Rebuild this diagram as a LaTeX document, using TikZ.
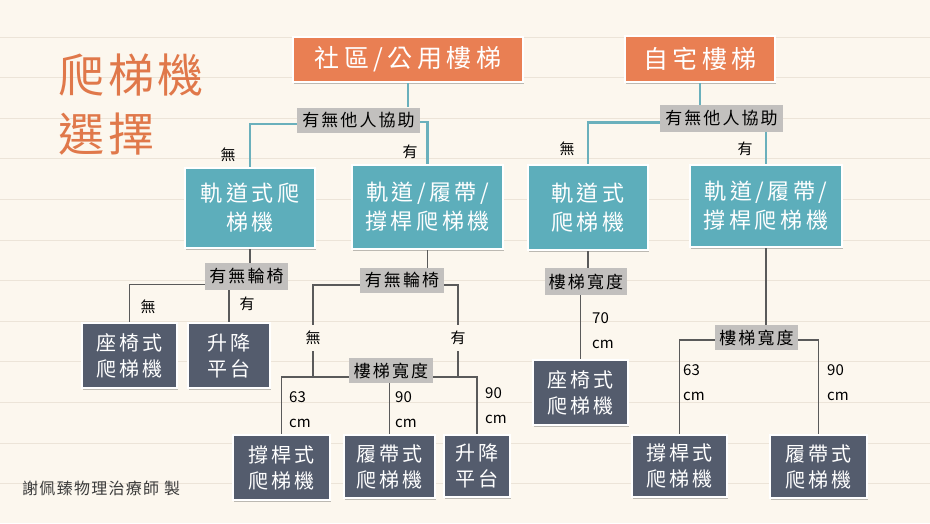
\documentclass[tikz,border=0pt]{standalone}
\usepackage{fontspec}
\usetikzlibrary{shadows}
\newfontfamily\cjk{Noto Sans CJK TC}
\newfontfamily\cjkTop[LetterSpace=18]{Noto Sans CJK TC}
\newfontfamily\cjkTeal[LetterSpace=16]{Noto Sans CJK TC}
\newfontfamily\cjkLeaf[LetterSpace=13]{Noto Sans CJK TC}
\newfontfamily\cjkQ[LetterSpace=12]{Noto Sans CJK TC}
\newfontfamily\cjkTitle[LetterSpace=8]{Noto Sans CJK TC}
\newfontfamily\cjkFoot[LetterSpace=8]{Noto Sans CJK TC}
\definecolor{bgc}{HTML}{FCF7EE}
\definecolor{rulec}{HTML}{ECE4D8}
\definecolor{orangec}{HTML}{E97F53}
\definecolor{titlec}{HTML}{E0784A}
\definecolor{tealc}{HTML}{5DAEBB}
\definecolor{teallinec}{HTML}{6AB0BC}
\definecolor{darkc}{HTML}{545C6D}
\definecolor{labelc}{HTML}{C2C0BE}
\definecolor{greylinec}{HTML}{5A5A5A}
\definecolor{footc}{HTML}{3A3A3A}
\tikzset{
  boxbase/.style={draw=white, line width=2.5pt, align=center, inner sep=0pt,
    drop shadow={shadow xshift=1.2pt, shadow yshift=-2pt, opacity=0.25, fill=black}},
  topbox/.style={boxbase, fill=orangec, text=white, font=\cjkTop\fontsize{25}{30}\selectfont},
  tealbox/.style={boxbase, fill=tealc, text=white, font=\cjkTeal\fontsize{22}{29}\selectfont},
  leafbox/.style={boxbase, fill=darkc, text=white, font=\cjkLeaf\fontsize{20}{26}\selectfont},
  qlabel/.style={fill=labelc, inner sep=0pt, text=black, font=\cjkQ\fontsize{17}{20}\selectfont},
  edgelabel/.style={text=black, inner xsep=1pt, inner ysep=6pt, font=\cjk\fontsize{15}{18}\selectfont},
  cmlabel/.style={anchor=west, align=left, inner sep=0pt, text=black, font=\cjk\fontsize{15}{25}\selectfont},
  titletext/.style={anchor=west, text=titlec, font=\cjkTitle\fontsize{46}{50}\selectfont},
  tealline/.style={draw=teallinec, line width=2.8pt},
  greyline/.style={draw=greylinec, line width=1.1pt},
}
\begin{document}
\begin{tikzpicture}[x=1pt,y=-1pt]
\useasboundingbox (0,0) rectangle (930,523);
\fill[bgc] (0,0) rectangle (930,523);
\foreach \k in {0,...,11} \draw[rulec, line width=0.8pt] (0,{37+40.6*\k}) -- (930,{37+40.6*\k});

% title
\node[titletext] (t1) at (55,75) {爬梯機};
\node[titletext] (t2) at (55,134) {選擇};

% top boxes
\node[topbox, minimum width=230pt, minimum height=45pt] (top1) at (408,59.5) {社區/公用樓梯};
\node[topbox, minimum width=150pt, minimum height=46pt] (top2) at (700,59) {自宅樓梯};

% question labels
\node[qlabel, minimum width=123pt, minimum height=25pt] (q1) at (358.5,120) {有無他人協助};
\node[qlabel, minimum width=123pt, minimum height=27pt] (q2) at (721.5,118.5) {有無他人協助};

% teal boxes
\node[tealbox, minimum width=130pt, minimum height=80pt] (A) at (250,208) {軌道式爬\\梯機};
\node[tealbox, minimum width=151pt, minimum height=84pt] (B) at (427.5,207) {軌道/履帶/\\撐桿爬梯機};
\node[tealbox, minimum width=120pt, minimum height=85pt] (C) at (588,207.5) {軌道式\\爬梯機};
\node[tealbox, minimum width=152pt, minimum height=82pt] (D) at (766,206) {軌道/履帶/\\撐桿爬梯機};

\node[qlabel, minimum width=83pt, minimum height=27pt] (qA) at (246.5,276.5) {有無輪椅};
\node[qlabel, minimum width=84pt, minimum height=25pt] (qB) at (402,280.5) {有無輪椅};
\node[qlabel, minimum width=82pt, minimum height=27pt] (qC) at (586,281.5) {樓梯寬度};
\node[qlabel, minimum width=83pt, minimum height=25pt] (qD) at (756.5,337.5) {樓梯寬度};
\node[qlabel, minimum width=84pt, minimum height=25pt] (qB2) at (391,370.5) {樓梯寬度};

% leaf boxes
\node[leafbox, minimum width=95pt, minimum height=65pt] (L1) at (129.5,355.5) {座椅式\\爬梯機};
\node[leafbox, minimum width=82pt, minimum height=65pt] (L2) at (229,355.5) {升降\\平台};
\node[leafbox, minimum width=97pt, minimum height=65pt] (L3) at (281.5,467.5) {撐桿式\\爬梯機};
\node[leafbox, minimum width=91pt, minimum height=63pt] (L4) at (389.5,466.5) {履帶式\\爬梯機};
\node[leafbox, minimum width=66pt, minimum height=62pt] (L5) at (477,466) {升降\\平台};
\node[leafbox, minimum width=95pt, minimum height=65pt] (L6) at (580.5,392.5) {座椅式\\爬梯機};
\node[leafbox, minimum width=95pt, minimum height=62pt] (L7) at (679.5,466) {撐桿式\\爬梯機};
\node[leafbox, minimum width=97pt, minimum height=63pt] (L8) at (818.5,466.5) {履帶式\\爬梯機};

% edge labels
\node[edgelabel] (e1) at (228,155) {無};
\node[edgelabel] (e2) at (410,152) {有};
\node[edgelabel] (e3) at (567,149) {無};
\node[edgelabel] (e4) at (745,149) {有};
\node[edgelabel] (e5) at (148,307) {無};
\node[edgelabel] (e6) at (247,304) {有};
\node[edgelabel] (nB) at (313,338) {無};
\node[edgelabel] (yB) at (458,338) {有};

\node[cmlabel] (c1) at (289,410) {63\\cm};
\node[cmlabel] (c2) at (395,410) {90\\cm};
\node[cmlabel] (c3) at (485,405.5) {90\\cm};
\node[cmlabel] (c4) at (592,330.5) {70\\cm};
\node[cmlabel] (c5) at (683,383) {63\\cm};
\node[cmlabel] (c6) at (827,383) {90\\cm};

% connectors (teal)
\draw[tealline] (top1.south) -- (top1.south |- q1.north);
\draw[tealline] ([yshift=-4pt]q1.west) -| (A.north);
\draw[tealline] ([yshift=-2pt]q1.east) -| (B.north);
\draw[tealline] (top2.south) -- (top2.south |- q2.north);
\draw[tealline] ([yshift=-4pt]q2.west) -| (C.north);
\draw[tealline] (D.north |- q2.south) -- (D.north);

% connectors (grey)
\draw[greyline] (A.south) -- (A.south |- qA.north);
\draw[greyline] ([yshift=-8pt]qA.west) -| (L1.north);
\draw[greyline] (L2.north |- qA.south) -- (L2.north);
\draw[greyline] (B.south) -- (B.south |- qB.north);
\draw[greyline] ([yshift=-4.5pt]qB.west) -| (nB.north);
\draw[greyline] ([yshift=-4.5pt]qB.east) -| (yB.north);
\coordinate (hB) at ([yshift=-6.5pt]qB2.center);
\draw[greyline] (nB.south) -- (nB.south |- hB);
\draw[greyline] (yB.south) -- (yB.south |- hB);
\draw[greyline] (hB -| qB2.west) -| (L3.north);
\draw[greyline] (hB -| qB2.east) -| (L5.north);
\draw[greyline] (L4.north |- qB2.south) -- (L4.north);
\draw[greyline] (C.south) -- (C.south |- qC.north);
\draw[greyline] (L6.north |- qC.south) -- (L6.north);
\draw[greyline] (D.south) -- (D.south |- qD.north);
\draw[greyline] ([yshift=-2.5pt]qD.west) -| (L7.north);
\draw[greyline] ([yshift=-2.5pt]qD.east) -| (L8.north);

% footer
\node[anchor=west, text=footc, inner sep=0pt, font=\cjkFoot\fontsize{16}{18}\selectfont] (foot) at (22,488) {謝佩臻物理治療師 製};
\end{tikzpicture}
\end{document}
